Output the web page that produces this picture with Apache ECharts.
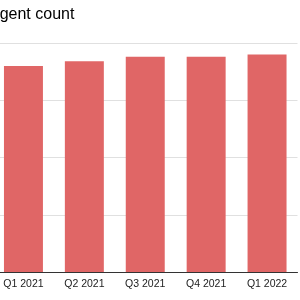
<!DOCTYPE html>
<html>
<head>
<meta charset="utf-8">
<script src="https://cdn.jsdelivr.net/npm/echarts@6/dist/echarts.min.js"></script>
<style>
html,body{margin:0;padding:0;background:#fff;overflow:hidden;}
#c{position:absolute;left:-7px;top:0;width:307px;height:300px;}
</style>
</head>
<body>
<div id="c"></div>
<script>
const titleText = "Agent count";
const categories = ["Q1 2021", "Q2 2021", "Q3 2021", "Q4 2021", "Q1 2022"];
const values = [180, 184, 188, 188, 190];
const yMin = 0, yMax = 200, yInterval = 50;

const chart = echarts.init(document.getElementById('c'), null, {renderer: 'canvas'});
chart.setOption({
  animation: false,
  backgroundColor: '#ffffff',
  title: {
    text: titleText,
    left: -9,
    top: 2,
    textStyle: {fontFamily: 'Liberation Sans, Arial, sans-serif', fontSize: 16, fontWeight: 'normal', color: '#000000'}
  },
  grid: {left: 0, right: 2.5, top: 43, bottom: 28, containLabel: false},
  xAxis: {
    type: 'category',
    data: categories,
    axisTick: {show: false},
    axisLine: {lineStyle: {color: '#333333', width: 1}},
    axisLabel: {fontFamily: 'Liberation Sans, Arial, sans-serif', fontSize: 10.5, color: '#222222', margin: 7}
  },
  yAxis: {
    type: 'value',
    min: yMin, max: yMax, interval: yInterval,
    axisLabel: {show: false},
    axisLine: {show: false},
    axisTick: {show: false},
    splitLine: {lineStyle: {color: '#e0e0e0', width: 1}}
  },
  series: [{
    type: 'bar',
    data: values,
    barWidth: '64%',
    itemStyle: {color: '#e06666'}
  }]
});
</script>
</body>
</html>
